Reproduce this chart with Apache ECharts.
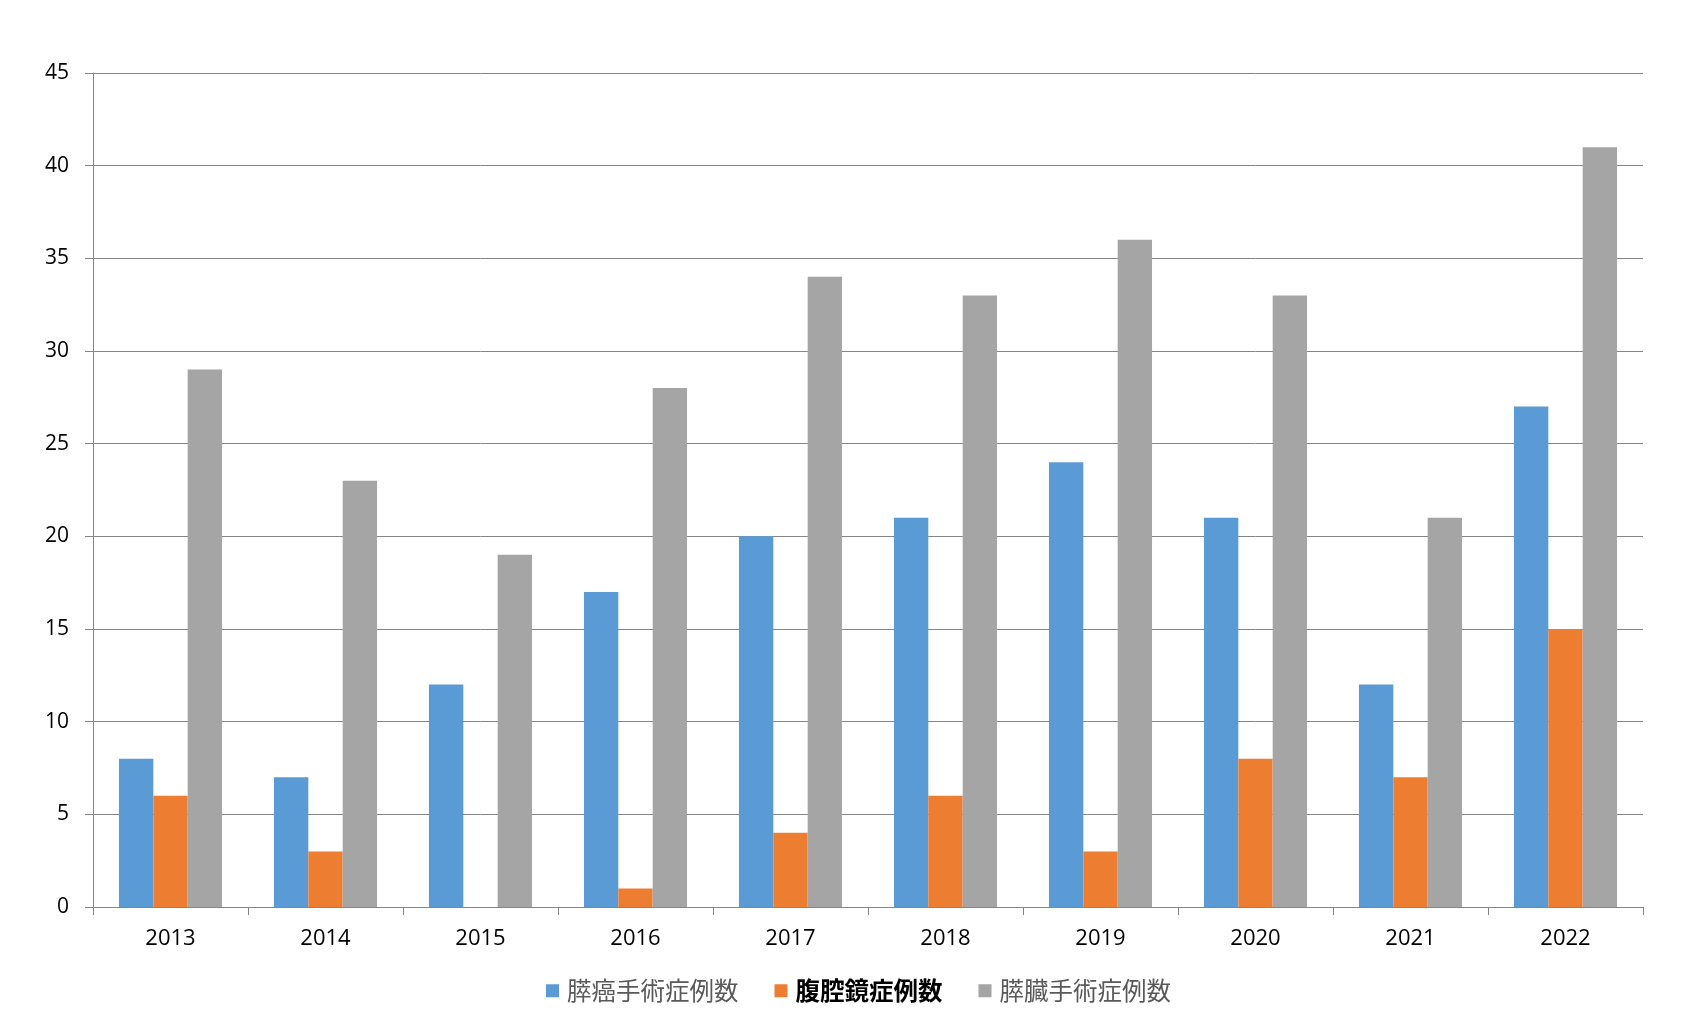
<!DOCTYPE html>
<html><head><meta charset="utf-8">
<script src="https://cdn.jsdelivr.net/npm/echarts@6/dist/echarts.min.js"></script>
<style>html,body{margin:0;padding:0;background:#fff}#c{width:1702px;height:1022px}</style>
</head><body><div id="c"></div>
<script>
const years = ['2013','2014','2015','2016','2017','2018','2019','2020','2021','2022'];
const seriesNames = ['膵癌手術症例数','腹腔鏡症例数','膵臓手術症例数'];
const cancerSurgery = [8,7,12,17,20,21,24,21,12,27];
const laparoscopic = [6,3,0,1,4,6,3,8,7,15];
const pancreasSurgery = [29,23,19,28,34,33,36,33,21,41];
const colors = ['#5B9BD5','#ED7D31','#A5A5A5'];
const lineColor = '#868686';
const chart = echarts.init(document.getElementById('c'));
const valueSets = [cancerSurgery, laparoscopic, pancreasSurgery];
chart.setOption({
  animation:false,
  color:colors,
  grid:{left:93,right:59,top:73,bottom:115},
  legend:{
    bottom:14, left:541,
    itemWidth:13,itemHeight:13,itemGap:36,
    icon:'rect',
    textStyle:{fontFamily:'Noto Sans CJK JP',fontSize:24.5,color:'#595959',padding:[0,0,0,3]},
    data:[
      {name:seriesNames[0]},
      {name:seriesNames[1],textStyle:{fontWeight:'bold',color:'#000'}},
      {name:seriesNames[2]}
    ]
  },
  xAxis:{
    type:'category',data:years,
    axisLine:{lineStyle:{color:lineColor,width:1}},
    axisTick:{show:true,length:8,lineStyle:{color:lineColor}},
    axisLabel:{color:'#000',fontFamily:'Open Sans',fontSize:22,margin:21}
  },
  yAxis:{
    type:'value',min:0,max:45,interval:5,
    axisLine:{show:true,lineStyle:{color:lineColor}},
    axisTick:{show:true,length:8,lineStyle:{color:lineColor}},
    splitLine:{lineStyle:{color:lineColor}},
    axisLabel:{color:'#000',fontFamily:'Open Sans',fontSize:21,margin:24}
  },
  series:valueSets.map((d,i)=>({
    name:seriesNames[i],type:'bar',data:d,
    barGap:'0%',barCategoryGap:'33.5%'
  }))
});
</script></body></html>
